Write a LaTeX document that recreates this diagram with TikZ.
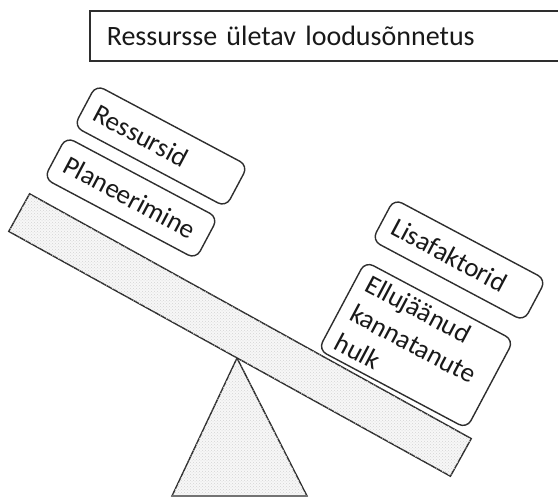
\documentclass[tikz,border=0pt]{standalone}
\usepackage{fontspec}
\setmainfont{Carlito}
\usetikzlibrary{patterns}
\begin{document}
\begin{tikzpicture}[x=1pt,y=-1pt,
  outline/.style={draw=black!82, line width=1.4pt},
  stipple/.style={fill=black!3, postaction={pattern=crosshatch dots, pattern color=black!17}},
  weight/.style={outline, fill=white, rounded corners=9pt, rotate=-28,
    font=\fontsize{27}{33}\selectfont, text=black!90, align=left,
    inner xsep=12pt, inner ysep=5pt, text width=148pt, minimum height=47pt},
  headline/.style={draw=black!82, line width=1.6pt, anchor=north west,
    font=\fontsize{28}{33}\selectfont, text=black!90, align=left,
    inner xsep=17pt, text width=450pt, minimum height=50pt},
]
\useasboundingbox (0,0) rectangle (558,497);

% heading box, running off the right edge
\node[headline] (title) at (89,10) {Ressursse ületav loodusõnnetus};

% fulcrum
\draw[outline, stipple] (237,358) -- (307,496) -- (172,496) -- cycle;
\draw[line width=2.4pt, black!55] (172,496) -- (307,496);

% tilted beam
\draw[outline, stipple] [shift={(240,335)}, rotate=-29] (-252.5,-21.5) rectangle (252.5,21.5);

% weights on the raised side
\node[weight] (ressursid) at (161,146) {Ressursid};
\node[weight] (planeerimine) at (131,198) {Planeerimine};

% weights on the lowered side
\node[weight] (lisafaktorid) at (459,260) {Lisafaktorid};
\node[weight, text width=144pt, minimum height=100pt] (ellujaanud) at (416,345)
  {Ellujäänud\\kannatanute\\hulk};
\end{tikzpicture}
\end{document}
